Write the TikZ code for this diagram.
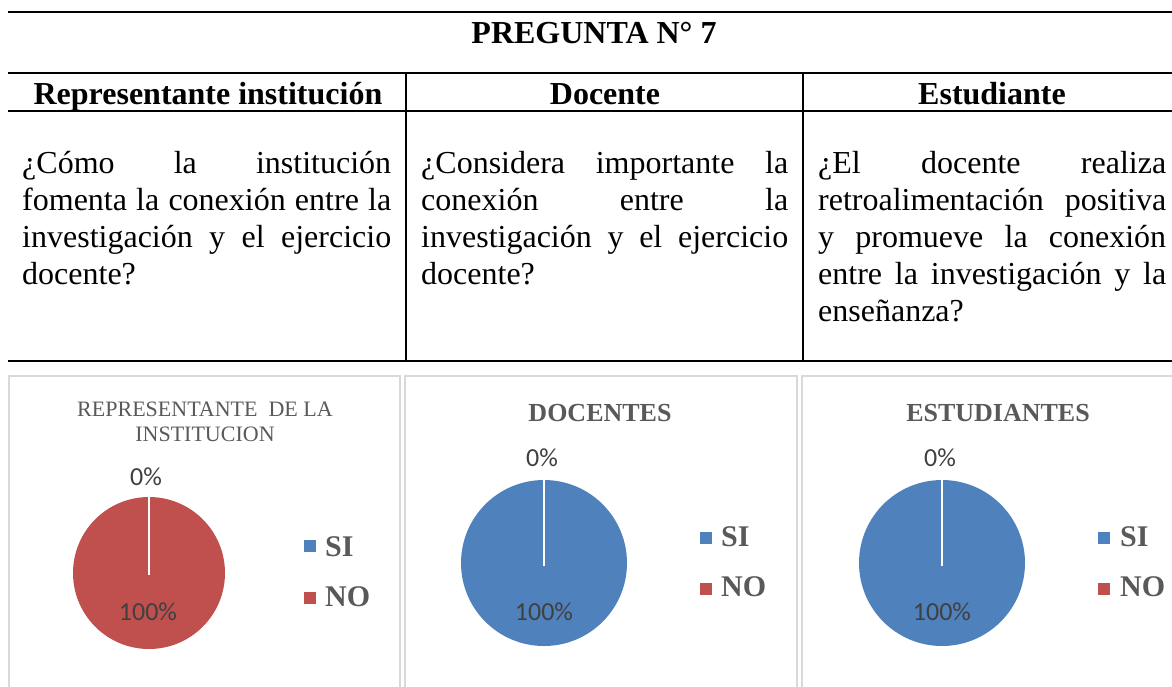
\documentclass[tikz,border=0pt]{standalone}
\usepackage{fontspec}
\setmainfont{Liberation Serif}
\newfontfamily\calib{Carlito}
\definecolor{pred}{HTML}{C0504D}
\definecolor{pblue}{HTML}{4F81BD}
\definecolor{legtxt}{HTML}{595959}
\definecolor{pcttxt}{HTML}{404040}
\definecolor{boxgray}{HTML}{D9D9D9}
\begin{document}
\begin{tikzpicture}[x=1pt,y=-1pt,
  tline/.style={line width=2.2pt,black},
  cbox/.style={line width=2.5pt,boxgray},
  hdr/.style={inner sep=0pt,anchor=base,font=\fontsize{32}{37}\selectfont\bfseries},
  body/.style={inner sep=0pt,anchor=base west,font=\fontsize{32}{37}\selectfont},
  ctitle/.style={inner sep=0pt,text=legtxt,align=center},
  pct/.style={inner sep=0pt,text=pcttxt,font=\calib\fontsize{26}{30}\selectfont},
  leg/.style={inner sep=0pt,anchor=west,text=legtxt,font=\fontsize{30}{34}\selectfont\bfseries},
  gap/.style={white,line width=2.6pt}]
\useasboundingbox (0,0) rectangle (1172,686);
\clip (0,0) rectangle (1172,686);
% table rules
\draw[tline] (8,12) -- (1172,12);
\draw[tline] (8,73) -- (1172,73);
\draw[tline] (8,111) -- (1172,111);
\draw[tline] (8,361) -- (1172,361);
\draw[tline] (406,73) -- (406,361);
\draw[tline] (803,73) -- (803,361);
% title and headers
\node[hdr] (title) at (594,43) {PREGUNTA N° 7};
\node[hdr] (h1) at (208,104) {Representante institución};
\node[hdr] (h2) at (605,104) {Docente};
\node[hdr] (h3) at (992,104) {Estudiante};
% column 1
\node[body] (a1) at (22,173) {\makebox[369pt][s]{¿Cómo la institución}};
\node[body] (a2) at (22,210) {\makebox[369pt][s]{fomenta la conexión entre la}};
\node[body] (a3) at (22,247) {\makebox[369pt][s]{investigación y el ejercicio}};
\node[body] (a4) at (22,284) {docente?};
% column 2
\node[body] (b1) at (421,173) {\makebox[367pt][s]{¿Considera importante la}};
\node[body] (b2) at (421,210) {\makebox[367pt][s]{conexión entre la}};
\node[body] (b3) at (421,247) {\makebox[367pt][s]{investigación y el ejercicio}};
\node[body] (b4) at (421,284) {docente?};
% column 3
\node[body] (c1) at (818,173) {\makebox[348pt][s]{¿El docente realiza}};
\node[body] (c2) at (818,210) {\makebox[348pt][s]{retroalimentación positiva}};
\node[body] (c3) at (818,247) {\makebox[348pt][s]{y promueve la conexión}};
\node[body] (c4) at (818,284) {\makebox[348pt][s]{entre la investigación y la}};
\node[body] (c5) at (818,321) {enseñanza?};
% chart boxes
\draw[cbox] (9,376) rectangle (400,700);
\draw[cbox] (405,376) rectangle (797,700);
\draw[cbox] (802,376) rectangle (1185,700);
% chart 1
\node[ctitle,font=\fontsize{22}{25}\selectfont] (t1) at (205,422) {REPRESENTANTE\ \ DE LA\\INSTITUCION};
\fill[pred] (149,573) circle[radius=76pt];
\draw[gap] (149,575) -- (149,496);
\node[pct] (p1a) at (146,477) {0\%};
\node[pct] (p1b) at (148,612) {100\%};
\fill[pblue] (304,540) rectangle (316,552);
\fill[pred] (304,592) rectangle (316,604);
\node[leg] (l1a) at (325,547) {SI};
\node[leg] (l1b) at (325,597) {NO};
% chart 2
\node[ctitle,font=\fontsize{26}{30}\selectfont\bfseries] (t2) at (600,413) {DOCENTES};
\fill[pblue] (544,563) circle[radius=83pt];
\draw[gap] (544,566) -- (544,479);
\node[pct] (p2a) at (542,458) {0\%};
\node[pct] (p2b) at (544,612) {100\%};
\fill[pblue] (700,532) rectangle (712,544);
\fill[pred] (700,583) rectangle (712,595);
\node[leg] (l2a) at (721,537) {SI};
\node[leg] (l2b) at (721,587) {NO};
% chart 3
\node[ctitle,font=\fontsize{26}{30}\selectfont\bfseries] (t3) at (998,413) {ESTUDIANTES};
\fill[pblue] (942,563) circle[radius=83pt];
\draw[gap] (942,566) -- (942,479);
\node[pct] (p3a) at (940,458) {0\%};
\node[pct] (p3b) at (942,612) {100\%};
\fill[pblue] (1098,532) rectangle (1110,544);
\fill[pred] (1098,583) rectangle (1110,595);
\node[leg] (l3a) at (1120,537) {SI};
\node[leg] (l3b) at (1120,587) {NO};
\end{tikzpicture}
\end{document}
